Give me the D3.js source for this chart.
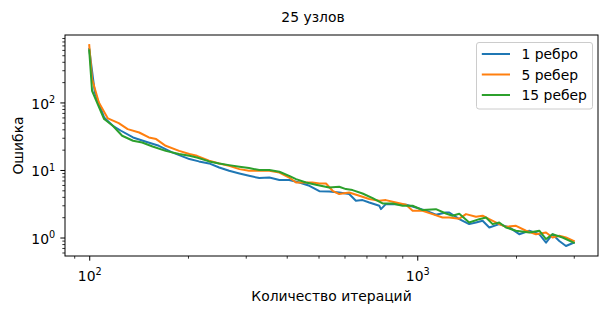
<!DOCTYPE html>
<html lang="ru">
	<head>
		<meta charset="utf-8">
		<title>25 узлов</title>
		<script type="text/javascript" src="https://cdn.jsdelivr.net/npm/d3@7"></script>
		<style type="text/css">
			body { margin: 0; background: #fff; }
			text { font-family: "DejaVu Sans", sans-serif; fill: #000; }
		</style>
	</head>
	<body>

		<div id="chart"></div>

		<script type="text/javascript">

		var title = "25 узлов"
		var xLabel = "Количество итераций"
		var yLabel = "Ошибка"
		var seriesNames = ["1 ребро", "5 ребер", "15 ребер"]
		var seriesColors = ["#1f77b4", "#ff7f0e", "#2ca02c"]

		var xTicks = [100, 1000]
		var yTicks = [1, 10, 100]

		// 1 ребро
		var iter1 = [100, 104, 111, 118, 125, 136, 149, 163, 179, 202, 216, 232, 249, 267, 287, 307, 330, 354, 380, 407, 437, 469, 503, 539, 578, 620, 650, 681, 714, 766, 775, 802, 861, 924, 991, 1063, 1140, 1223, 1252, 1343, 1440, 1510, 1582, 1658, 1778, 1908, 2046, 2196, 2355, 2469, 2585, 2710, 2840, 3000]
		var err1 = [620, 141, 60, 45.2, 38.1, 30.3, 26.2, 22.8, 18.2, 14.5, 13.4, 12.5, 10.9, 9.73, 8.88, 8.2, 7.59, 7.74, 7.09, 7.09, 6.53, 5.83, 4.85, 4.8, 4.64, 4.4, 3.5, 3.58, 3.3, 2.95, 2.63, 3.12, 3.12, 3.05, 2.78, 2.49, 2.17, 2.35, 2.35, 1.87, 1.58, 1.67, 1.77, 1.41, 1.58, 1.41, 1.12, 1.26, 1.12, 0.84, 1.12, 0.89, 0.75, 0.84]

		// 5 ребер
		var iter5 = [100, 102, 107, 114, 123, 131, 142, 152, 160, 171, 188, 202, 213, 232, 249, 267, 287, 307, 330, 354, 380, 407, 427, 446, 479, 503, 527, 552, 578, 620, 666, 714, 766, 802, 861, 924, 968, 1038, 1113, 1194, 1252, 1343, 1408, 1510, 1582, 1658, 1778, 1864, 2000, 2145, 2301, 2469, 2585, 2710, 2840, 3000]
		var err5 = [708, 222, 100, 58, 49.5, 40.3, 35.9, 30.3, 28.7, 22.8, 19.2, 17.2, 16.2, 13.7, 12.5, 11.5, 10.3, 9.73, 9.73, 9.73, 9.18, 7.74, 6.53, 6.53, 6.53, 6.31, 6.31, 4.92, 4.4, 4.64, 4.15, 3.71, 3.5, 3.58, 3.3, 3.05, 2.49, 2.49, 2.22, 1.98, 1.98, 1.9, 2.22, 2.03, 2.1, 1.87, 1.58, 1.44, 1.49, 1.26, 1.12, 1.19, 1.0, 1.06, 1.0, 0.89]

		// 15 ребер
		var iter15 = [100, 102, 111, 118, 126, 136, 145, 156, 171, 188, 202, 213, 232, 249, 267, 287, 307, 330, 354, 380, 407, 427, 458, 491, 539, 578, 606, 635, 681, 731, 784, 841, 902, 968, 1038, 1140, 1223, 1281, 1343, 1440, 1545, 1620, 1697, 1778, 1864, 2000, 2196, 2355, 2469, 2585, 2773, 3000]
		var err15 = [590, 149, 56.8, 45.2, 32.1, 27.1, 25.5, 22.3, 19.2, 17.2, 16.2, 15.3, 13.4, 12.5, 11.8, 11.2, 10.7, 9.97, 9.97, 9.4, 8.2, 7.33, 6.53, 6.04, 5.5, 5.64, 5.21, 5.04, 4.49, 3.83, 3.19, 3.19, 2.95, 2.95, 2.55, 2.63, 2.27, 2.1, 2.25, 1.67, 1.87, 1.98, 1.58, 1.67, 1.41, 1.26, 1.19, 1.26, 0.95, 1.12, 1.0, 0.84]

		var allIters = [iter1, iter5, iter15]
		var allErrs = [err1, err5, err15]

		drawChart()

		function logDomain(values){
			// matplotlib style 5% margin in log space
			var lo = Math.log10(d3.min(values))
			var hi = Math.log10(d3.max(values))
			var m = (hi - lo) * 0.05
			return [Math.pow(10, lo - m), Math.pow(10, hi + m)]
		}

		function minorTicks(domain){
			var out = []
			for (var e = Math.floor(Math.log10(domain[0])); e <= Math.ceil(Math.log10(domain[1])); e++){
				for (var k = 2; k <= 9; k++){
					var v = k * Math.pow(10, e)
					if (v >= domain[0] && v <= domain[1]) out.push(v)
				}
			}
			return out
		}

		function drawChart(){

				var w = 608
				var h = 314
				var left = 65
				var right = 598
				var top = 35
				var bottom = 256
				var majorLen = 4.67
				var minorLen = 2.67
				var fontSize = 13.9

				var svg = d3.select("#chart")
						.append("svg")
						.attr("width", w)
						.attr("height", h)

				var xScale = d3.scaleLog()
						.domain(logDomain(d3.merge(allIters)))
						.range([left, right])

				var yScale = d3.scaleLog()
						.domain(logDomain(d3.merge(allErrs)))
						.range([bottom, top])

				var line = d3.line()
						.x(function(d){ return xScale(d[0]) })
						.y(function(d){ return yScale(d[1]) })

				var plot = svg.append("g")

				plot.append("clipPath")
						.attr("id", "clip")
						.append("rect")
						.attr("x", left)
						.attr("y", top)
						.attr("width", right - left)
						.attr("height", bottom - top)

				seriesNames.forEach(function(name, i){
						var pts = d3.zip(allIters[i], allErrs[i])
						plot.append("path")
								.datum(pts)
								.attr("clip-path", "url(#clip)")
								.attr("d", line)
								.attr("fill", "none")
								.attr("stroke", seriesColors[i])
								.attr("stroke-width", 2)
								.attr("stroke-linejoin", "round")
								.attr("stroke-linecap", "square")
				})

				// frame
				svg.append("rect")
						.attr("x", left)
						.attr("y", top)
						.attr("width", right - left)
						.attr("height", bottom - top)
						.attr("fill", "none")
						.attr("stroke", "#000")
						.attr("stroke-width", 1)

				// x axis
				var xAxis = d3.axisBottom(xScale)
						.tickValues(xTicks)
						.tickSize(majorLen)
						.tickFormat("")

				var xg = svg.append("g")
						.attr("transform", "translate(0," + bottom + ")")
						.call(xAxis)
				xg.select(".domain").remove()

				var xMinor = d3.axisBottom(xScale)
						.tickValues(minorTicks(xScale.domain()))
						.tickSize(minorLen)
						.tickFormat("")
				var xmg = svg.append("g")
						.attr("transform", "translate(0," + bottom + ")")
						.call(xMinor)
				xmg.select(".domain").remove()
				xmg.selectAll("line").attr("stroke-width", 0.8)

				xg.selectAll(".tick").each(function(d){
						var t = d3.select(this).append("text")
								.attr("y", 24.7)
								.attr("text-anchor", "middle")
								.style("font-size", fontSize + "px")
						t.append("tspan").text("10")
						t.append("tspan")
								.attr("dy", -5.9)
								.style("font-size", "9.7px")
								.text(Math.round(Math.log10(d)))
				})

				// y axis
				var yAxis = d3.axisLeft(yScale)
						.tickValues(yTicks)
						.tickSize(majorLen)
						.tickFormat("")
				var yg = svg.append("g")
						.attr("transform", "translate(" + left + ",0)")
						.call(yAxis)
				yg.select(".domain").remove()

				var yMinor = d3.axisLeft(yScale)
						.tickValues(minorTicks(yScale.domain()))
						.tickSize(minorLen)
						.tickFormat("")
				var ymg = svg.append("g")
						.attr("transform", "translate(" + left + ",0)")
						.call(yMinor)
				ymg.select(".domain").remove()
				ymg.selectAll("line").attr("stroke-width", 0.8)

				yg.selectAll(".tick").each(function(d){
						var t = d3.select(this).append("text")
								.attr("x", -9.8)
								.attr("y", 6)
								.attr("text-anchor", "end")
								.style("font-size", fontSize + "px")
						t.append("tspan").text("10")
						t.append("tspan")
								.attr("dy", -5.9)
								.style("font-size", "9.7px")
								.text(Math.round(Math.log10(d)))
				})

				svg.selectAll(".tick line").attr("stroke", "#000")

				// labels
				svg.append("text")
						.attr("x", 313)
						.attr("y", 22)
						.attr("text-anchor", "middle")
						.style("font-size", fontSize + "px")
						.text(title)

				svg.append("text")
						.attr("x", (left + right) / 2)
						.attr("y", 301)
						.attr("text-anchor", "middle")
						.style("font-size", fontSize + "px")
						.text(xLabel)

				svg.append("text")
						.attr("transform", "translate(23," + ((top + bottom) / 2) + ") rotate(-90)")
						.attr("text-anchor", "middle")
						.style("font-size", fontSize + "px")
						.text(yLabel)

				// legend
				var legend = svg.append("g")
						.attr("transform", "translate(476.5,42.5)")

				legend.append("rect")
						.attr("width", 116)
						.attr("height", 66.5)
						.attr("rx", 2.5)
						.attr("fill", "#fff")
						.attr("fill-opacity", 0.8)
						.attr("stroke", "#cccccc")
						.attr("stroke-width", 1)

				var items = legend.selectAll("g.item")
						.data(seriesNames)
						.enter()
						.append("g")
						.attr("class", "item")
						.attr("transform", function(d, i){ return "translate(0," + (11.5 + i * 20.5) + ")" })

				items.append("line")
						.attr("x1", 5.3)
						.attr("x2", 33.5)
						.attr("stroke", function(d, i){ return seriesColors[i] })
						.attr("stroke-width", 2)

				items.append("text")
						.attr("x", 45)
						.attr("y", 5)
						.style("font-size", fontSize + "px")
						.text(function(d){ return d })

		}

		</script>
	</body>
</html>
